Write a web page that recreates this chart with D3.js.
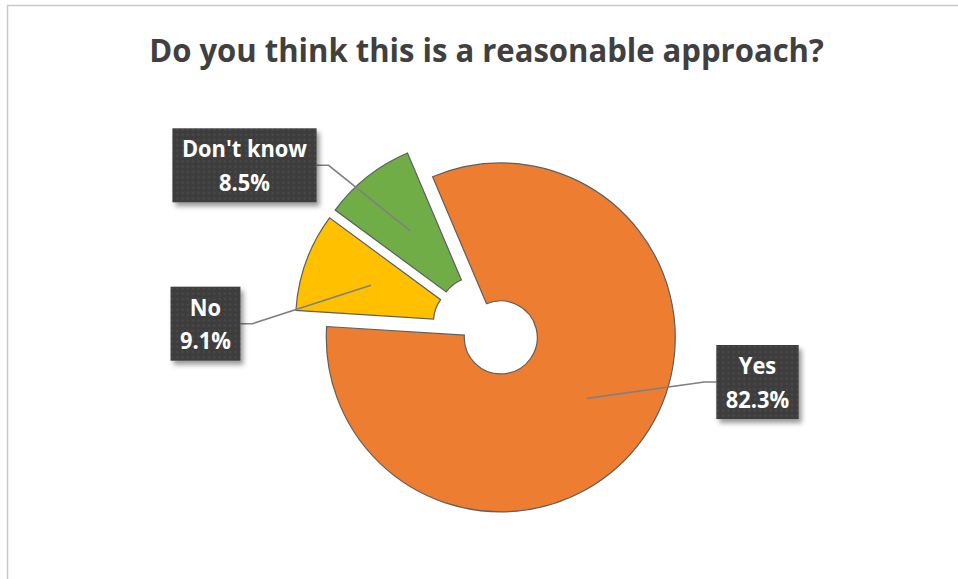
<!DOCTYPE html>
<html>
<head>
<meta charset="utf-8">
<script src="https://cdn.jsdelivr.net/npm/d3@7"></script>
<style>
  html, body { margin: 0; padding: 0; background: #fff; }
  svg { display: block; }
</style>
</head>
<body>
<div id="chart"></div>
<script>
// chart data
const categories = ["Yes", "No", "Don't know"];
const values = [82.3, 9.1, 8.5];
const valueLabels = ["82.3%", "9.1%", "8.5%"];
const colors = ["#ED7D31", "#FFC000", "#70AD47"];
const title = "Do you think this is a reasonable approach?";

// label box centres (layout only)
const labelPos = [[757.5, 382], [205.5, 323.7], [244.5, 165.3]];

let width = 958;
let height = 579;
let cx = 486.5;
let cy = 327.3;
let outerR = 174.5;
let innerR = 36.5;
let explode = 17.5;
let startDeg = -23;

let svg = d3.select('#chart')
    .append('svg')
    .attr('width', width)
    .attr('height', height);

let defs = svg.append('defs');

let pat = defs.append('pattern')
    .attr('id', 'dots')
    .attr('patternUnits', 'userSpaceOnUse')
    .attr('width', 5.3)
    .attr('height', 5.3);
pat.append('rect').attr('width', 5.3).attr('height', 5.3).attr('fill', '#3e3e3e');
pat.append('rect').attr('x', 1.5).attr('y', 1.5).attr('width', 1.6).attr('height', 1.6).attr('fill', '#525252');

let shadow = defs.append('filter')
    .attr('id', 'shadow')
    .attr('x', '-20%').attr('y', '-20%')
    .attr('width', '150%').attr('height', '150%');
shadow.append('feDropShadow')
    .attr('dx', 3).attr('dy', 4)
    .attr('stdDeviation', 2.5)
    .attr('flood-color', '#000')
    .attr('flood-opacity', 0.4);

// chart frame
svg.append('path')
    .attr('d', `M7.5,${height + 2}V5.5H${width + 2}`)
    .attr('fill', 'none')
    .attr('stroke', '#c9c9c9')
    .attr('stroke-width', 1.5);

function squeezeText(sel, ratio) {
    sel.each(function () {
        let len = this.getComputedTextLength();
        d3.select(this)
            .attr('textLength', len * ratio)
            .attr('lengthAdjust', 'spacingAndGlyphs');
    });
}

svg.append('text')
    .attr('x', cx)
    .attr('y', 62)
    .attr('text-anchor', 'middle')
    .attr('font-family', 'Open Sans, sans-serif')
    .attr('font-weight', 700)
    .attr('font-size', 33)
    .attr('fill', '#404040')
    .text(title)
    .call(squeezeText, 0.94);

let data = categories.map((c, i) => ({
    name: c, value: values[i], label: valueLabels[i], color: colors[i], pos: labelPos[i]
}));

let pie = d3.pie()
    .value(d => d.value)
    .sort(null)
    .startAngle(startDeg * Math.PI / 180)
    .endAngle(startDeg * Math.PI / 180 + 2 * Math.PI);

let arc = d3.arc()
    .innerRadius(innerR)
    .outerRadius(outerR);

let arcs = pie(data).map(a => {
    let mid = (a.startAngle + a.endAngle) / 2;
    a.dx = cx + explode * Math.sin(mid);
    a.dy = cy - explode * Math.cos(mid);
    return a;
});

let g = svg.append('g');

g.selectAll('path.slice')
    .data(arcs)
    .enter()
    .append('path')
    .attr('class', 'slice')
    .attr('transform', d => `translate(${d.dx},${d.dy})`)
    .attr('d', arc)
    .attr('fill', d => d.data.color)
    .attr('stroke', '#5f5f5f')
    .attr('stroke-width', 1.2);

let leaders = g.selectAll('polyline.leader')
    .data(arcs)
    .enter()
    .append('polyline')
    .attr('class', 'leader')
    .attr('fill', 'none')
    .attr('stroke', '#808080')
    .attr('stroke-width', 1.6);

// label boxes
let labels = svg.append('g')
    .selectAll('g.label')
    .data(arcs)
    .enter()
    .append('g')
    .attr('class', 'label');

labels.append('rect')
    .attr('fill', 'url(#dots)')
    .attr('filter', 'url(#shadow)');

let labelSqueeze = 0.95;
labels.each(function (d) {
    let lg = d3.select(this);
    let t1 = lg.append('text')
        .attr('x', d.data.pos[0])
        .attr('y', d.data.pos[1] - 8)
        .text(d.data.name);
    let t2 = lg.append('text')
        .attr('x', d.data.pos[0])
        .attr('y', d.data.pos[1] + 25.7)
        .text(d.data.label);
    lg.selectAll('text')
        .attr('text-anchor', 'middle')
        .attr('font-family', 'Open Sans, sans-serif')
        .attr('font-weight', 700)
        .attr('font-size', 23)
        .attr('fill', '#ffffff');
    let w = Math.max(t1.node().getComputedTextLength(), t2.node().getComputedTextLength()) * labelSqueeze + 19;
    lg.selectAll('text').call(squeezeText, labelSqueeze);
    d.boxW = w;
    lg.select('rect')
        .attr('x', d.data.pos[0] - w / 2)
        .attr('y', d.data.pos[1] - 37)
        .attr('width', w)
        .attr('height', 74);
});

// leader: slice centroid -> elbow -> box edge
let elbow = 12;
leaders.attr('points', d => {
    let c = arc.centroid(d);
    let ax = d.dx + c[0], ay = d.dy + c[1];
    let left = d.data.pos[0] < ax;
    let ex = left ? d.data.pos[0] + d.boxW / 2 : d.data.pos[0] - d.boxW / 2;
    let ey = d.data.pos[1];
    let bx = left ? ex + elbow : ex - elbow;
    return [[ax, ay], [bx, ey], [ex, ey]].map(p => p.join(',')).join(' ');
});
</script>
</body>
</html>
